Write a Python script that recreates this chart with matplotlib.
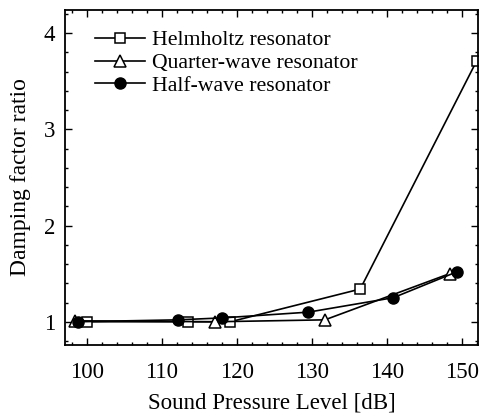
import matplotlib
matplotlib.use('Agg')
import matplotlib.pyplot as plt
from matplotlib.ticker import MultipleLocator

# data
helm_spl = [100.0, 113.5, 119.1, 136.4, 151.9]
helm_ratio = [1.0, 1.0, 1.0, 1.34, 3.71]

quarter_spl = [98.4, 117.1, 131.7, 148.3]
quarter_ratio = [1.01, 1.0, 1.02, 1.50]

half_spl = [98.8, 112.1, 118.0, 129.5, 140.8, 149.3]
half_ratio = [1.0, 1.02, 1.04, 1.10, 1.25, 1.52]

plt.rcParams['font.family'] = ['Liberation Serif', 'DejaVu Serif']
plt.rcParams['font.size'] = 16

fig = plt.figure(figsize=(4.82, 4.15), dpi=100)
ax = fig.add_axes([0.135, 0.169, 0.857, 0.807])

ax.plot(helm_spl, helm_ratio, color='black', lw=1.2, marker='s', ms=7.5,
        mfc='white', mec='black', mew=1.1, label='Helmholtz resonator')
ax.plot(quarter_spl, quarter_ratio, color='black', lw=1.2, marker='^', ms=9,
        mfc='white', mec='black', mew=1.1, label='Quarter-wave resonator')
ax.plot(half_spl, half_ratio, color='black', lw=1.2, marker='o', ms=8,
        mfc='black', mec='black', label='Half-wave resonator')

ax.set_xlim(97.1, 152.1)
ax.set_ylim(0.76, 4.24)
ax.xaxis.set_major_locator(MultipleLocator(10))
ax.xaxis.set_minor_locator(MultipleLocator(2))
ax.yaxis.set_major_locator(MultipleLocator(1))
ax.yaxis.set_minor_locator(MultipleLocator(0.2))
ax.tick_params(which='both', direction='in', top=True, right=True, width=1.0)
ax.tick_params(which='major', length=5, labelsize=16.5)
ax.tick_params(axis='x', which='major', pad=12)
ax.tick_params(axis='y', which='major', pad=7)
ax.tick_params(which='minor', length=2.5)
for s in ax.spines.values():
    s.set_linewidth(1.3)

ax.set_xlabel('Sound Pressure Level [dB]', fontsize=16.5, labelpad=7)
ax.set_ylabel('Damping factor ratio', fontsize=17, labelpad=9)

ax.legend(loc='upper left', bbox_to_anchor=(0.073, 0.94), frameon=False,
          fontsize=15.7, handlelength=2.3, handletextpad=0.3, labelspacing=0.12,
          borderaxespad=0, borderpad=0)

fig.savefig('out.png', dpi=100)
